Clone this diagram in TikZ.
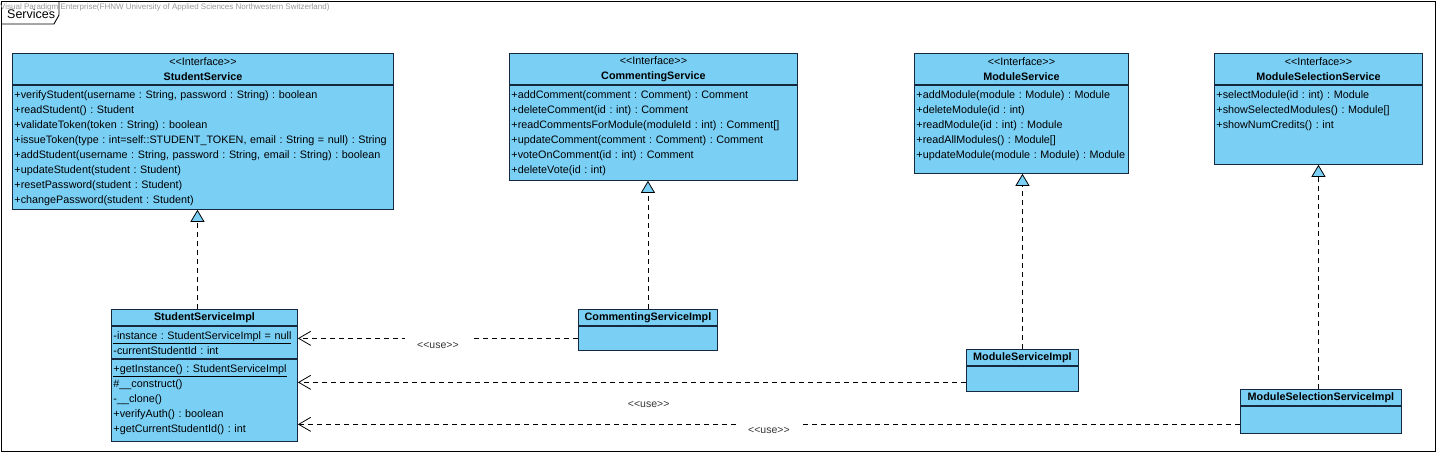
\documentclass[tikz,border=0pt]{standalone}
\usepackage{fontspec}
\setmainfont{Liberation Sans}[Ligatures=TeXOff]
\usepackage{tikz}
\usepackage{xcolor}
\usetikzlibrary{arrows.meta, positioning}
\frenchspacing
\definecolor{classfill}{RGB}{122,207,245}
\definecolor{classline}{RGB}{22,40,62}
\tikzstyle{ifacehead} = [rectangle, draw=classline, fill=classfill, line width=0.9pt, align=center, minimum height=31pt, inner xsep=2pt, inner ysep=0pt, font=\fontsize{10.8}{15}\selectfont, anchor=north west]
\tikzstyle{opsbox} = [rectangle, draw=classline, fill=classfill, line width=0.9pt, align=left, inner xsep=2pt, inner ysep=2pt, text height=11pt, font=\fontsize{10.8}{15}\selectfont]
\tikzstyle{implname} = [rectangle, draw=classline, fill=classfill, line width=0.9pt, align=center, minimum height=16pt, inner xsep=2pt, inner ysep=0pt, font=\fontsize{10.8}{15}\selectfont\bfseries, anchor=north west]
\tikzstyle{implbody} = [rectangle, draw=classline, fill=classfill, line width=0.9pt, inner sep=0pt]
\tikzstyle{realize} = [line width=0.8pt, dash pattern=on 5pt off 4pt, -{Triangle[length=12pt, width=14pt, fill=classfill]}]
\tikzstyle{usearrow} = [line width=0.8pt, dash pattern=on 5pt off 4pt, -{Straight Barb[length=12pt, width=14pt]}]
\tikzstyle{uselabel} = [font=\fontsize{10.5}{12}\selectfont, text=black!80]

\begin{document}
\begin{tikzpicture}[x=1pt, y=-1pt]
\useasboundingbox (0,0) rectangle (1437,453);

% Frame
\node (frame) [draw=black, line width=0.9pt, minimum width=1434pt, minimum height=450pt, anchor=north west, inner sep=0pt] at (1,1) {};
\draw [line width=0.9pt] ([yshift=-23pt]frame.north west) -- ++(53,0) -- ++(5,-9) -- ++(0,-14);
\node (tabtitle) [anchor=west, inner sep=0pt, font=\fontsize{12.5}{14}\selectfont] at (7,14) {Services};

% Interfaces
\node (ss-head) [ifacehead, minimum width=381pt] at (12,53) {<<Interface>>\\\textbf{StudentService}};
\node (ss-ops) [opsbox, below=0pt of ss-head, text width=377pt, text depth=109pt] {+verifyStudent(username : String, password : String) : boolean\\
    +readStudent() : Student\\
    +validateToken(token : String) : boolean\\
    +issueToken(type : int=self::STUDENT\_TOKEN, email : String = null) : String\\
    +addStudent(username : String, password : String, email : String) : boolean\\
    +updateStudent(student : Student)\\
    +resetPassword(student : Student)\\
    +changePassword(student : Student)};

\node (cs-head) [ifacehead, minimum width=288pt] at (509,53) {<<Interface>>\\\textbf{CommentingService}};
\node (cs-ops) [opsbox, below=0pt of cs-head, text width=284pt, text depth=80pt] {+addComment(comment : Comment) : Comment\\
    +deleteComment(id : int) : Comment\\
    +readCommentsForModule(moduleId : int) : Comment[]\\
    +updateComment(comment : Comment) : Comment\\
    +voteOnComment(id : int) : Comment\\
    +deleteVote(id : int)};

\node (ms-head) [ifacehead, minimum width=214pt] at (914,53) {<<Interface>>\\\textbf{ModuleService}};
\node (ms-ops) [opsbox, below=0pt of ms-head, text width=210pt, text depth=73pt] {+addModule(module : Module) : Module\\
    +deleteModule(id : int)\\
    +readModule(id : int) : Module\\
    +readAllModules() : Module[]\\
    +updateModule(module : Module) : Module};

\node (mss-head) [ifacehead, minimum width=208pt] at (1214,53) {<<Interface>>\\\textbf{ModuleSelectionService}};
\node (mss-ops) [opsbox, below=0pt of mss-head, text width=204pt, text depth=64pt] {+selectModule(id : int) : Module\\
    +showSelectedModules() : Module[]\\
    +showNumCredits() : int};

% Implementations
\node (ssi-name) [implname, minimum width=186pt] at (111,309) {StudentServiceImpl};
\node (ssi-attrs) [opsbox, below=0pt of ssi-name, text width=182pt, text depth=17pt] {\underline{-instance : StudentServiceImpl = null}\\
    -currentStudentId : int};
\node (ssi-ops) [opsbox, below=0pt of ssi-attrs, text width=182pt, text depth=67pt] {\underline{+getInstance() : StudentServiceImpl}\\
    \#\_\_construct()\\
    -\_\_clone()\\
    +verifyAuth() : boolean\\
    +getCurrentStudentId() : int};

\node (csi-name) [implname, minimum width=139pt] at (578,309) {CommentingServiceImpl};
\node (csi-body) [implbody, below=0pt of csi-name, minimum width=139pt, minimum height=24pt] {};

\node (msi-name) [implname, minimum width=112pt] at (966,349) {ModuleServiceImpl};
\node (msi-body) [implbody, below=0pt of msi-name, minimum width=112pt, minimum height=25pt] {};

\node (mssi-name) [implname, minimum width=161pt] at (1240,389) {ModuleSelectionServiceImpl};
\node (mssi-body) [implbody, below=0pt of mssi-name, minimum width=161pt, minimum height=27pt] {};

% Realizations
\coordinate (ss-link) at ([xshift=-7pt]ssi-name.north);
\draw [realize] (ss-link) -- (ss-link |- ss-ops.south);
\draw [realize] (csi-name.north) -- (csi-name.north |- cs-ops.south);
\draw [realize] (msi-name.north) -- (msi-name.north |- ms-ops.south);
\draw [realize] (mss-ops.south |- mssi-name.north) -- (mss-ops.south);

% Dependencies
\draw [usearrow] (csi-body.west) -- node [uselabel, fill=white, inner xsep=12pt, inner ysep=6pt, yshift=-7pt] {<<use>>} (csi-body.west -| ssi-attrs.east);
\coordinate (msi-use) at ([yshift=-3.5pt]msi-body.west);
\draw [usearrow] (msi-use) -- node [uselabel, pos=0.475, yshift=-22pt] {<<use>>} (msi-use -| ssi-ops.east);
\coordinate (mssi-use) at ([yshift=-4.5pt]mssi-body.west);
\draw [usearrow] (mssi-use) -- node [uselabel, fill=white, inner xsep=10.5pt, inner ysep=6pt, yshift=-6pt] {<<use>>} (mssi-use -| ssi-ops.east);

% Watermark
\node (watermark) [anchor=west, inner sep=0pt, font=\fontsize{8}{9}\selectfont, text=black!40] at (0,7) {Visual Paradigm Enterprise(FHNW University of Applied Sciences Northwestern Switzerland)};

\end{tikzpicture}
\end{document}
